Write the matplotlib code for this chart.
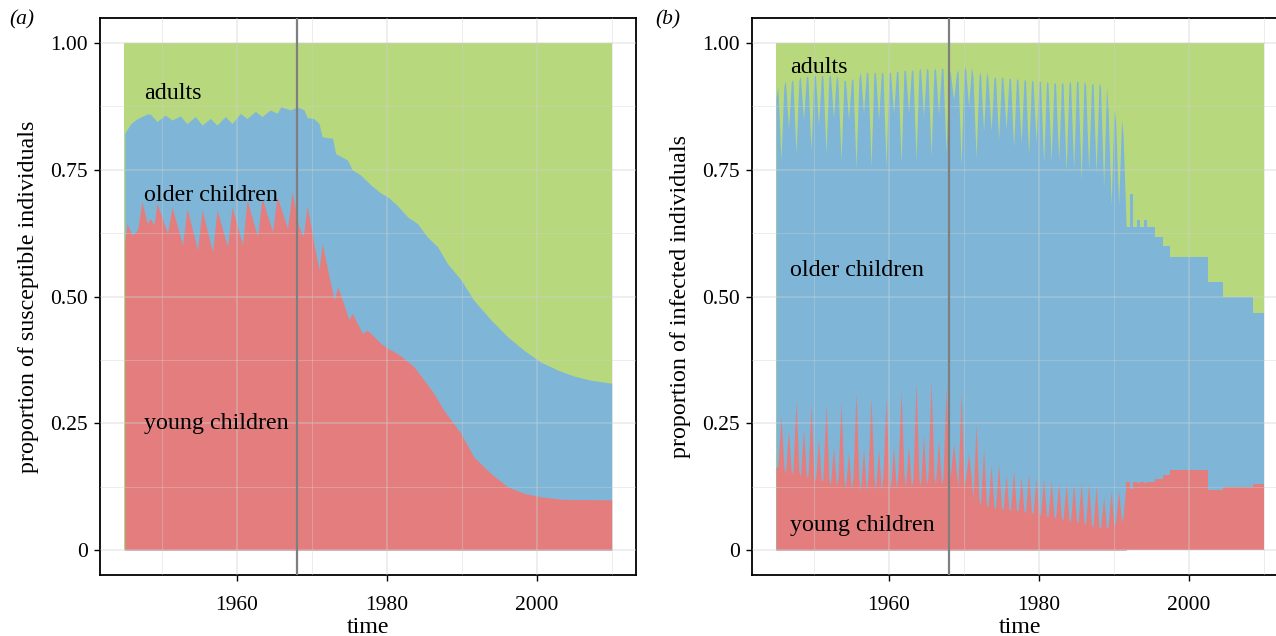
import numpy as np
import matplotlib
matplotlib.use("Agg")
import matplotlib.pyplot as plt
from matplotlib.ticker import FixedLocator, NullFormatter

plt.rcParams['font.family'] = ['Liberation Serif', 'DejaVu Serif']

# ---------------- data ----------------
t_start, t_end = 1945, 2010
intervention_year = 1968

# Panel (a): proportion of susceptible individuals (stacked tops)
a_young_t = [1945.1, 1945.4, 1946.1, 1946.8, 1947.4, 1948.1, 1948.5, 1949.0, 1949.4,
             1950.8, 1951.4, 1952.8, 1953.4, 1954.8, 1955.4, 1956.8, 1957.4, 1958.8,
             1959.4, 1960.8, 1961.4, 1962.8, 1963.4, 1964.8, 1965.4, 1966.8, 1967.4,
             1968.3, 1968.9, 1969.4, 1970.3, 1971.0, 1971.4, 1973.0, 1973.5, 1975.0,
             1975.4, 1976.8, 1977.4, 1979.2, 1980.1, 1981.4, 1982.3, 1983.6, 1985.0,
             1986.3, 1987.6, 1989.9, 1991.6, 1993.9, 1996.1, 1998.3, 2000.5, 2003.6, 2010.0]
a_young = [0.605, 0.644, 0.621, 0.631, 0.687, 0.644, 0.654, 0.641, 0.684,
           0.625, 0.677, 0.602, 0.674, 0.592, 0.671, 0.588, 0.671, 0.598,
           0.677, 0.602, 0.690, 0.618, 0.694, 0.628, 0.697, 0.634, 0.707,
           0.638, 0.618, 0.680, 0.605, 0.552, 0.605, 0.493, 0.519, 0.454,
           0.467, 0.427, 0.434, 0.408, 0.398, 0.388, 0.378, 0.362, 0.335,
           0.309, 0.276, 0.230, 0.184, 0.151, 0.125, 0.112, 0.105, 0.100, 0.099]

a_older_t = [1945.1, 1945.9, 1946.8, 1948.1, 1948.5, 1949.4, 1950.5, 1951.4, 1952.5,
             1953.4, 1954.5, 1955.4, 1956.5, 1957.4, 1958.5, 1959.4, 1960.5, 1961.4,
             1962.5, 1963.4, 1964.5, 1965.4, 1965.9, 1967.2, 1968.1, 1969.0, 1969.4,
             1970.3, 1971.0, 1971.4, 1972.8, 1973.2, 1974.8, 1975.4, 1976.5, 1977.9,
             1979.2, 1980.1, 1981.4, 1982.8, 1984.1, 1985.4, 1986.8, 1988.1, 1989.9,
             1991.6, 1993.9, 1996.1, 1998.3, 2000.5, 2002.8, 2005.0, 2007.2, 2010.0]
a_older_top = [0.822, 0.841, 0.851, 0.860, 0.860, 0.845, 0.858, 0.848, 0.856,
               0.841, 0.855, 0.838, 0.851, 0.838, 0.855, 0.841, 0.861, 0.851,
               0.865, 0.855, 0.868, 0.861, 0.874, 0.868, 0.874, 0.868, 0.853,
               0.851, 0.841, 0.815, 0.812, 0.782, 0.769, 0.750, 0.740, 0.720,
               0.704, 0.697, 0.680, 0.657, 0.644, 0.618, 0.598, 0.565, 0.533,
               0.493, 0.454, 0.421, 0.394, 0.371, 0.355, 0.343, 0.335, 0.329]

# Panel (b): proportion of infected individuals
b_years = list(range(1945, 1992))
b_start_young, b_start_older = 0.164, 0.891
b_young_base = [0.164, 0.150, 0.155, 0.145, 0.145, 0.135, 0.140, 0.128, 0.140, 0.120,
                0.140, 0.116, 0.145, 0.118, 0.145, 0.120, 0.150, 0.125, 0.140, 0.128,
                0.145, 0.130, 0.140, 0.151, 0.125, 0.138, 0.099, 0.089, 0.085, 0.082,
                0.080, 0.079, 0.077, 0.074, 0.072, 0.068, 0.066, 0.063, 0.060, 0.057,
                0.054, 0.050, 0.045, 0.043, 0.045, 0.055, 0.066]
b_young_spike = [0.266, 0.237, 0.296, 0.240, 0.289, 0.220, 0.289, 0.204, 0.292, 0.194,
                 0.312, 0.200, 0.302, 0.200, 0.302, 0.204, 0.316, 0.207, 0.332, 0.227,
                 0.335, 0.217, 0.325, 0.210, 0.312, 0.191, 0.250, 0.200, 0.168, 0.170,
                 0.148, 0.158, 0.145, 0.151, 0.141, 0.141, 0.138, 0.132, 0.132, 0.132,
                 0.134, 0.132, 0.128, 0.105, 0.118, 0.118, 0.135]
b_older_base = [0.915, 0.925, 0.927, 0.934, 0.934, 0.937, 0.934, 0.937, 0.925, 0.927,
                0.930, 0.943, 0.940, 0.943, 0.940, 0.943, 0.945, 0.947, 0.945, 0.950,
                0.947, 0.950, 0.950, 0.940, 0.947, 0.953, 0.934, 0.943, 0.930, 0.934,
                0.930, 0.930, 0.927, 0.927, 0.924, 0.924, 0.921, 0.921, 0.921, 0.924,
                0.924, 0.918, 0.921, 0.914, 0.871, 0.848, 0.822]
b_older_spike = [0.769, 0.832, 0.782, 0.848, 0.789, 0.838, 0.782, 0.852, 0.769, 0.848,
                 0.753, 0.861, 0.756, 0.848, 0.756, 0.861, 0.762, 0.861, 0.769, 0.855,
                 0.776, 0.858, 0.782, 0.888, 0.759, 0.874, 0.773, 0.825, 0.827, 0.809,
                 0.830, 0.795, 0.802, 0.779, 0.805, 0.763, 0.766, 0.769, 0.746, 0.753,
                 0.730, 0.750, 0.743, 0.717, 0.680, 0.680, 0.638]
b_step_t = [1991.6, 1992.2, 1992.6, 1993.1, 1993.5, 1994.0, 1994.45, 1995.55, 1996.55,
            1997.55, 2002.55, 2004.55, 2008.55, 2010.0]
b_step_young = [0.135, 0.120, 0.135, 0.133, 0.135, 0.133, 0.135, 0.141, 0.148,
                0.158, 0.118, 0.125, 0.131, 0.131]
b_step_older = [0.638, 0.702, 0.638, 0.651, 0.638, 0.651, 0.638, 0.618, 0.600,
                0.578, 0.529, 0.500, 0.467, 0.467]

group_labels = ["adults", "older children", "young children"]
C_RED, C_BLUE, C_GREEN = "#E47E7E", "#7FB6D7", "#B8D87E"

# build panel b oscillating series: base before, spike, base after, per year
bt, by, bo = [float(t_start)], [b_start_young], [b_start_older]
for i, y in enumerate(b_years):
    last = (i == len(b_years) - 1)
    bt += [y + 0.25, y + 0.67]
    by += [b_young_base[i], b_young_spike[i]]
    bo += [b_older_base[i], b_older_spike[i]]
    if not last:
        bt.append(y + 1.05)
        by.append(b_young_base[i])
        bo.append(b_older_base[i])

FS = 17.3
TFS = 15.5
W, H = 1276, 636
fig = plt.figure(figsize=(W / 100, H / 100), dpi=100)
xl = (t_start - 0.05 * (t_end - t_start), t_end + 0.05 * (t_end - t_start))
yl = (-0.05, 1.05)


def make_axes(left_px, ylabel, tag, tag_x):
    ax = fig.add_axes([left_px / W, 1 - 575.4 / H,
                       536.5 / W, (575.4 - 17.6) / H])
    ax.set_xlim(*xl)
    ax.set_ylim(*yl)
    ax.set_axisbelow(False)
    ax.xaxis.set_major_locator(FixedLocator([1960, 1980, 2000]))
    ax.xaxis.set_minor_locator(FixedLocator([1950, 1970, 1990, 2010]))
    ax.yaxis.set_major_locator(FixedLocator([0, 0.25, 0.5, 0.75, 1.0]))
    ax.yaxis.set_minor_locator(FixedLocator([0.125, 0.375, 0.625, 0.875]))
    ax.set_yticklabels(["0", "0.25", "0.50", "0.75", "1.00"])
    ax.xaxis.set_minor_formatter(NullFormatter())
    ax.tick_params(which="major", length=4.5, width=1.0, color="black",
                   labelsize=TFS, labelcolor="black", pad=4)
    ax.tick_params(axis="x", which="major", pad=10)
    ax.tick_params(which="minor", length=0)
    ax.grid(which="major", color="#d0d0d0", alpha=0.45, lw=1.1)
    ax.grid(which="minor", color="#d0d0d0", alpha=0.45, lw=0.6)
    for s in ax.spines.values():
        s.set_linewidth(1.3)
        s.set_color("black")
    ax.set_xlabel("time", fontsize=FS, labelpad=2)
    ax.set_ylabel(ylabel, fontsize=FS, labelpad=8)
    fig.text(tag_x / W, 1 - 20 / H, tag, fontsize=15.5, style="italic",
             ha="left", va="center")
    ax.axvline(intervention_year, color="#7f7f7f", lw=1.6, zorder=3)
    return ax


# ---- panel a ----
ax1 = make_axes(99.6, "proportion of susceptible individuals", "(a)", 9)
ax1.fill_between([t_start, t_end], 0, 1, color=C_GREEN, lw=0, zorder=1.0)
ax1.fill_between(a_older_t, 0, a_older_top, color=C_BLUE, lw=0, zorder=1.1)
ax1.fill_between(a_young_t, 0, a_young, color=C_RED, lw=0, zorder=1.2)
for lab, yv in zip(group_labels, [0.901, 0.700, 0.250]):
    ax1.text(1947.7, yv, lab, fontsize=FS, ha="left", va="center", zorder=4)

# ---- panel b ----
ax2 = make_axes(751.6, "proportion of infected individuals", "(b)", 655)
ax2.fill_between([t_start, t_end], 0, 1, color=C_GREEN, lw=0, zorder=1.0)
ax2.fill_between(bt, 0, bo, color=C_BLUE, lw=0, zorder=1.1)
ax2.fill_between(b_step_t, 0, b_step_older, step="post", color=C_BLUE, lw=0, zorder=1.1)
ax2.fill_between(bt, 0, by, color=C_RED, lw=0, zorder=1.2)
ax2.fill_between(b_step_t, 0, b_step_young, step="post", color=C_RED, lw=0, zorder=1.2)
for lab, yv in zip(group_labels, [0.951, 0.552, 0.049]):
    ax2.text(1946.9, yv, lab, fontsize=FS, ha="left", va="center", zorder=4)

fig.savefig("out.png", dpi=100)
